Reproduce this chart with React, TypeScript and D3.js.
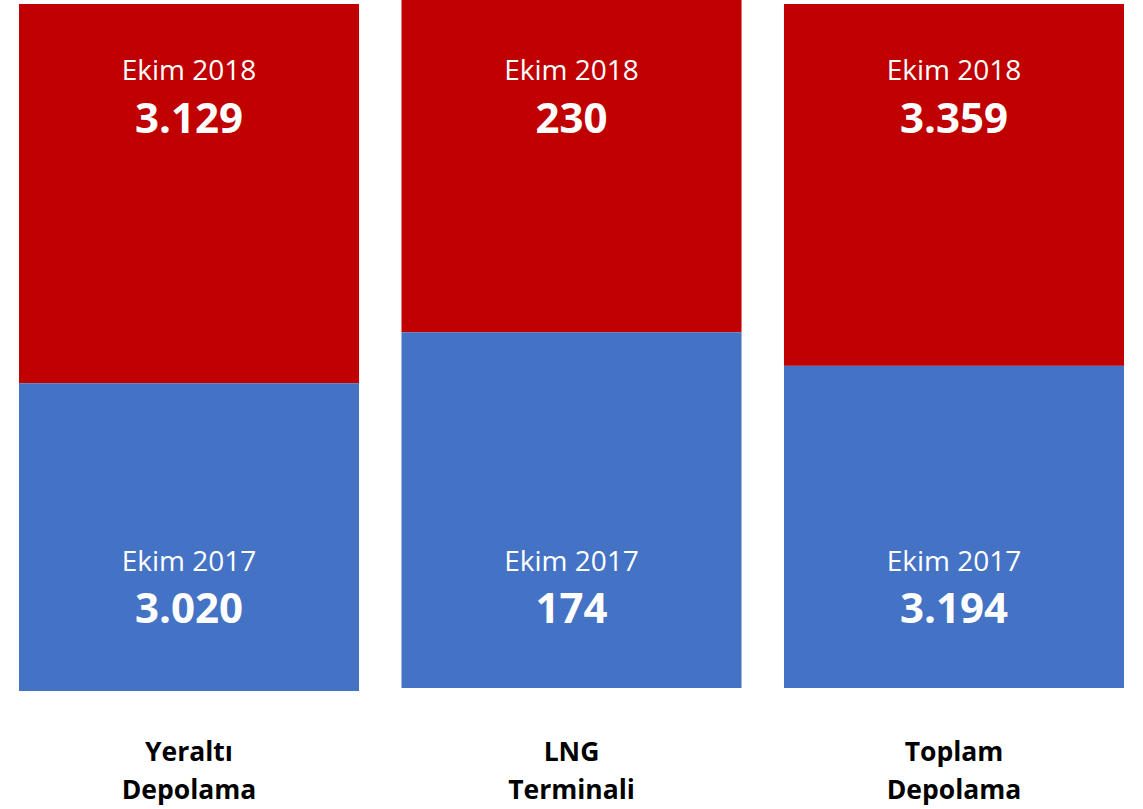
import React from "react";
import * as d3 from "d3";

const categories = ["Yeraltı Depolama", "LNG Terminali", "Toplam Depolama"];
const categoryLines = [["Yeraltı", "Depolama"], ["LNG", "Terminali"], ["Toplam", "Depolama"]];
const values2017 = [3020, 174, 3194];
const values2018 = [3129, 230, 3359];
const share2017 = [0.448, 0.517, 0.471];
const label2017 = "Ekim 2017";
const label2018 = "Ekim 2018";

const W = 1143;
const H = 809;
const barTop = [4, 0, 4];
const barBottom = [691, 688, 688];
const RED = "#C00000";
const BLUE = "#4472C4";
const FONT = "'Open Sans', sans-serif";

const fmt = (v: number) => d3.format(",")(v).replace(/,/g, ".");

export default function App() {
  const x = d3.scaleBand<string>().domain(categories).range([19, 1124]).paddingInner(0.111).paddingOuter(0);
  const bw = x.bandwidth();
  return (
    <svg width={W} height={H} style={{ position: "absolute", left: 0, top: 0, background: "#fff" }}>
      {categories.map((c, i) => {
        const y = d3.scaleLinear().domain([0, 1]).range([barBottom[i], barTop[i]]);
        const x0 = x(c) as number;
        const cx = x0 + bw / 2;
        const split = y(share2017[i]);
        return (
          <g key={c}>
            <rect x={x0} y={y(1)} width={bw} height={split - y(1)} fill={RED} />
            <rect x={x0} y={split} width={bw} height={y(0) - split} fill={BLUE} />
            <text x={cx} y={80} textAnchor="middle" fill="#fff" fontFamily={FONT} fontSize={28}>{label2018}</text>
            <text x={cx} y={133} textAnchor="middle" fill="#fff" fontFamily={FONT} fontSize={42} fontWeight="bold">{fmt(values2018[i])}</text>
            <text x={cx} y={571} textAnchor="middle" fill="#fff" fontFamily={FONT} fontSize={28}>{label2017}</text>
            <text x={cx} y={623} textAnchor="middle" fill="#fff" fontFamily={FONT} fontSize={42} fontWeight="bold">{fmt(values2017[i])}</text>
            {categoryLines[i].map((ln, j) => (
              <text key={j} x={cx} y={761 + j * 38} textAnchor="middle" fill="#000" fontFamily={FONT} fontSize={26.5} fontWeight="bold">{ln}</text>
            ))}
          </g>
        );
      })}
    </svg>
  );
}
